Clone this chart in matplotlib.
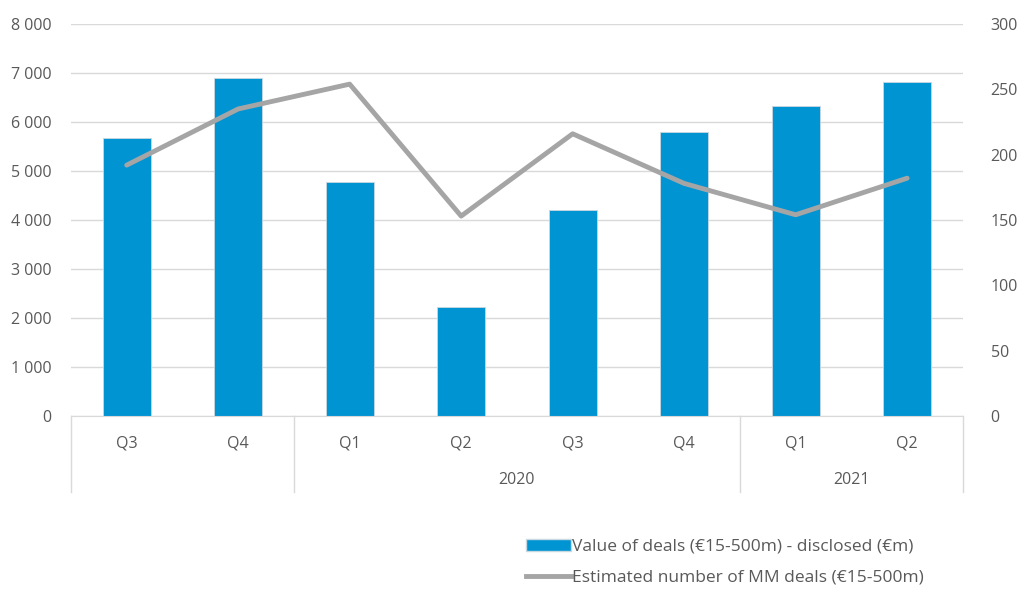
import numpy as np
import matplotlib
matplotlib.use("Agg")
import matplotlib.pyplot as plt
from matplotlib.ticker import FuncFormatter, MultipleLocator
from matplotlib.patches import Patch
from matplotlib.lines import Line2D

plt.rcParams["font.family"] = ["Open Sans", "DejaVu Sans"]
plt.rcParams["font.size"] = 11.5

quarters = ["Q3", "Q4", "Q1", "Q2", "Q3", "Q4", "Q1", "Q2"]
years = ["", "2020", "2021"]
year_spans = [(0, 2), (2, 6), (6, 8)]  # [start, end) index per year group
deal_value = [5680, 6890, 4780, 2220, 4200, 5790, 6330, 6810]
deal_count = [192, 235, 254, 153, 216, 178, 154, 182]

txt = "#595959"
bar_col = "#0094D3"
line_col = "#A5A5A5"

fig = plt.figure(figsize=(10.24, 6.13), dpi=100)
ax = fig.add_axes([0.0693, 0.3214, 0.871, 0.6394])
ax2 = ax.twinx()

x = np.arange(len(quarters))
ax.bar(x, deal_value, width=0.43, color=bar_col, edgecolor="#c8d8e0", linewidth=0.6, zorder=2)
ax2.plot(x, deal_count, color=line_col, linewidth=3.5, solid_capstyle="round", zorder=3)

ax.set_xlim(-0.5, len(quarters) - 0.5)
ax.set_ylim(0, 8000)
ax2.set_ylim(0, 300)
ax.yaxis.set_major_locator(MultipleLocator(1000))
ax2.yaxis.set_major_locator(MultipleLocator(50))
ax.yaxis.set_major_formatter(FuncFormatter(lambda v, p: f"{int(v):,}".replace(",", " ")))
ax.grid(axis="y", color="#d9d9d9", linewidth=1, zorder=0)
ax.set_axisbelow(True)

for a in (ax, ax2):
    for s in a.spines.values():
        s.set_visible(False)
    a.tick_params(length=0, colors=txt, labelsize=11.5)
ax.tick_params(axis="y", pad=14)
ax2.tick_params(axis="y", pad=20)
ax.spines["bottom"].set_visible(True)
ax.spines["bottom"].set_color("#d9d9d9")
ax.set_xticks([])

# multi-level category axis
trans = ax.get_xaxis_transform()
for i, q in enumerate(quarters):
    ax.text(x[i], -0.069, q, transform=trans, ha="center", va="center", color=txt, fontsize=11.5)
for yr, (s, e) in zip(years, year_spans):
    ax.text((s + e - 1) / 2, -0.163, yr, transform=trans, ha="center", va="center", color=txt, fontsize=11.5)
for b in [-0.5, 1.5, 5.5, 7.5]:
    ax.plot([b, b], [0, -0.194], transform=trans, color="#d9d9d9", linewidth=1, clip_on=False)

handles = [Patch(facecolor=bar_col, edgecolor="#c8d8e0"),
           Line2D([0], [0], color=line_col, linewidth=3.5)]
labels = ["Value of deals (€15-500m) - disclosed (€m)",
          "Estimated number of MM deals (€15-500m)"]
fig.legend(handles, labels, loc="upper left", bbox_to_anchor=(0.498, 0.147), frameon=False,
           labelcolor=txt, fontsize=12.5, handlelength=2.6, handletextpad=0.1, labelspacing=0.85)

fig.savefig("out.png", dpi=100)
